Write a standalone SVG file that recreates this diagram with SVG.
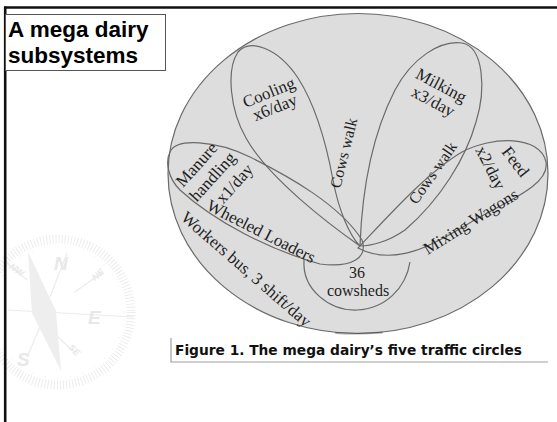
<svg xmlns="http://www.w3.org/2000/svg" width="557" height="422" viewBox="0 0 557 422">
  <style>
    .petal { fill: none; stroke: #6a6a6a; stroke-width: 1.2; }
    .lbl { font-family: "Liberation Serif", "Times New Roman", serif; font-size: 17px; fill: #1e1e1e; text-anchor: middle; }
    .cmp { stroke: #ebebeb; fill: none; }
    .cmpt { font-family: "Liberation Sans", Arial, sans-serif; font-weight: bold; font-style: italic; fill: #e8e8e8; }
  </style>
  <rect width="557" height="422" fill="#ffffff"/>

  <!-- faint compass rose watermark -->
  <g id="compass">
    <circle class="cmp" cx="58" cy="312" r="73" stroke-width="9" stroke-dasharray="0.9 2.2"/>
    <circle class="cmp" cx="58" cy="312" r="66" stroke-width="1" stroke-dasharray="0.9 12"/>
    <line class="cmp" x1="8" y1="310" x2="133" y2="317" stroke-width="1.2"/>
    <line class="cmp" x1="50" y1="297" x2="67" y2="253" stroke-width="1.2"/>
    <line class="cmp" x1="40" y1="327" x2="27" y2="357" stroke-width="1.2"/>
    <line class="cmp" x1="75" y1="292" x2="103" y2="272" stroke-width="1.2"/>
    <line class="cmp" x1="7" y1="263" x2="27" y2="280" stroke-width="1.2"/>
    <line class="cmp" x1="58" y1="337" x2="72" y2="350" stroke-width="1.2"/>
    <polygon points="28,252 56,311 61,371 32,313" fill="#eeeeee"/>
    <text class="cmpt" x="54" y="270" font-size="19">N</text>
    <text class="cmpt" x="88" y="324" font-size="19">E</text>
    <text class="cmpt" x="17" y="366" font-size="19">S</text>
    <text class="cmpt" font-size="9" transform="translate(95,281) rotate(-40)">NE</text>
    <text class="cmpt" font-size="9" transform="translate(68,348) rotate(45)">SE</text>
    <text class="cmpt" font-size="9" transform="translate(9,268) rotate(35)">NW</text>
  </g>

  <!-- page frame (top and left rules) -->
  <g id="frame" stroke="#111" fill="none">
    <line x1="4" y1="7.5" x2="557" y2="7.5" stroke-width="2.6"/>
    <line x1="5.2" y1="6.5" x2="5.2" y2="422" stroke-width="2.6"/>
  </g>

  <!-- title box -->
  <g id="title">
    <rect x="5.5" y="14.5" width="160" height="56" fill="#fff" stroke="#555" stroke-width="1"/>
    <text x="8" y="37" font-family="Liberation Sans, Arial, sans-serif" font-weight="bold" font-size="22.5" fill="#000">A mega dairy</text>
    <text x="8" y="63" font-family="Liberation Sans, Arial, sans-serif" font-weight="bold" font-size="22.5" fill="#000">subsystems</text>
  </g>

  <!-- whole dairy -->
  <g id="dairy">
    <ellipse cx="358" cy="173.5" rx="190" ry="160" fill="#dddddd" stroke="#6a6a6a" stroke-width="1.2"/>
    <path d="M336,333 Q358,334.5 382,332.5" fill="none" stroke="#444" stroke-width="1.8" stroke-linecap="round" opacity="0.45"/>
    <text class="lbl" transform="translate(180,219) rotate(41)" style="text-anchor:start">Workers bus, 3 shift/day</text>
  </g>

  <!-- traffic circles -->
  <g id="connectors">
    <g id="cooling">
      <path class="petal" d="M360,246 C330,225 268,178 246,138 C230,110 226,70 238,52 C250,38 278,48 298,78 C316,106 326,142 333,180 C339,212 350,236 360,246 Z"/>
      <text class="lbl" transform="translate(269,93) rotate(-22)" y="5">Cooling</text>
      <text class="lbl" transform="translate(275,108) rotate(-22)" y="5">x6/day</text>
      <text class="lbl" style="font-size:16px" transform="translate(344,153) rotate(-76)" y="5">Cows walk</text>
    </g>
    <g id="milking">
      <path class="petal" d="M360,246 C362,190 372,135 395,90 C412,58 440,40 462,43 C484,47 486,90 476,122 C466,158 440,200 405,230 C388,242 370,246 360,246 Z"/>
      <text class="lbl" transform="translate(441,86) rotate(28)" y="5">Milking</text>
      <text class="lbl" transform="translate(433,102) rotate(28)" y="5">x3/day</text>
      <text class="lbl" style="font-size:16px" transform="translate(433,173) rotate(-55)" y="5">Cows walk</text>
    </g>
    <g id="feed">
      <path class="petal" d="M358,248 C392,212 428,172 462,152 C492,136 540,135 546,162 C550,184 510,200 478,218 C445,237 400,270 358,248 Z"/>
      <text class="lbl" transform="translate(515,162) rotate(52)" y="5">Feed</text>
      <text class="lbl" transform="translate(490,168) rotate(63)" y="5">x2/day</text>
      <text class="lbl" transform="translate(471,222) rotate(-32)" y="5">Mixing Wagons</text>
    </g>
    <g id="manure">
      <path class="petal" d="M170,152 C176,138 215,140 250,157 C290,177 340,205 362,240 C368,258 352,268 320,264 C270,250 215,222 180,190 C168,178 165,162 170,152 Z"/>
      <text class="lbl" transform="translate(197,165) rotate(-48)" y="5">Manure</text>
      <text class="lbl" transform="translate(213,177) rotate(-48)" y="5">handling</text>
      <text class="lbl" transform="translate(235,184) rotate(-48)" y="5">x1/day</text>
      <text class="lbl" transform="translate(261,232) rotate(27)" y="5">Wheeled Loaders</text>
    </g>
    <g id="cowsheds">
      <path class="petal" d="M304,260 C302,290 330,311 357,310 C385,309 406,288 410,262"/>
      <text class="lbl" style="font-size:16px" x="357" y="278">36</text>
      <text class="lbl" style="font-size:16px" x="358" y="296">cowsheds</text>
    </g>
  </g>

  <!-- figure caption -->
  <g id="caption">
    <polyline points="171,338 171,362 548,362" fill="none" stroke="#a0a0a0" stroke-width="1.2"/>
    <text x="175" y="355" font-family="DejaVu Sans, Verdana, sans-serif" font-weight="bold" font-size="13.5" fill="#111" textLength="347" lengthAdjust="spacingAndGlyphs">Figure 1.  The mega dairy’s five traffic circles</text>
  </g>
</svg>
